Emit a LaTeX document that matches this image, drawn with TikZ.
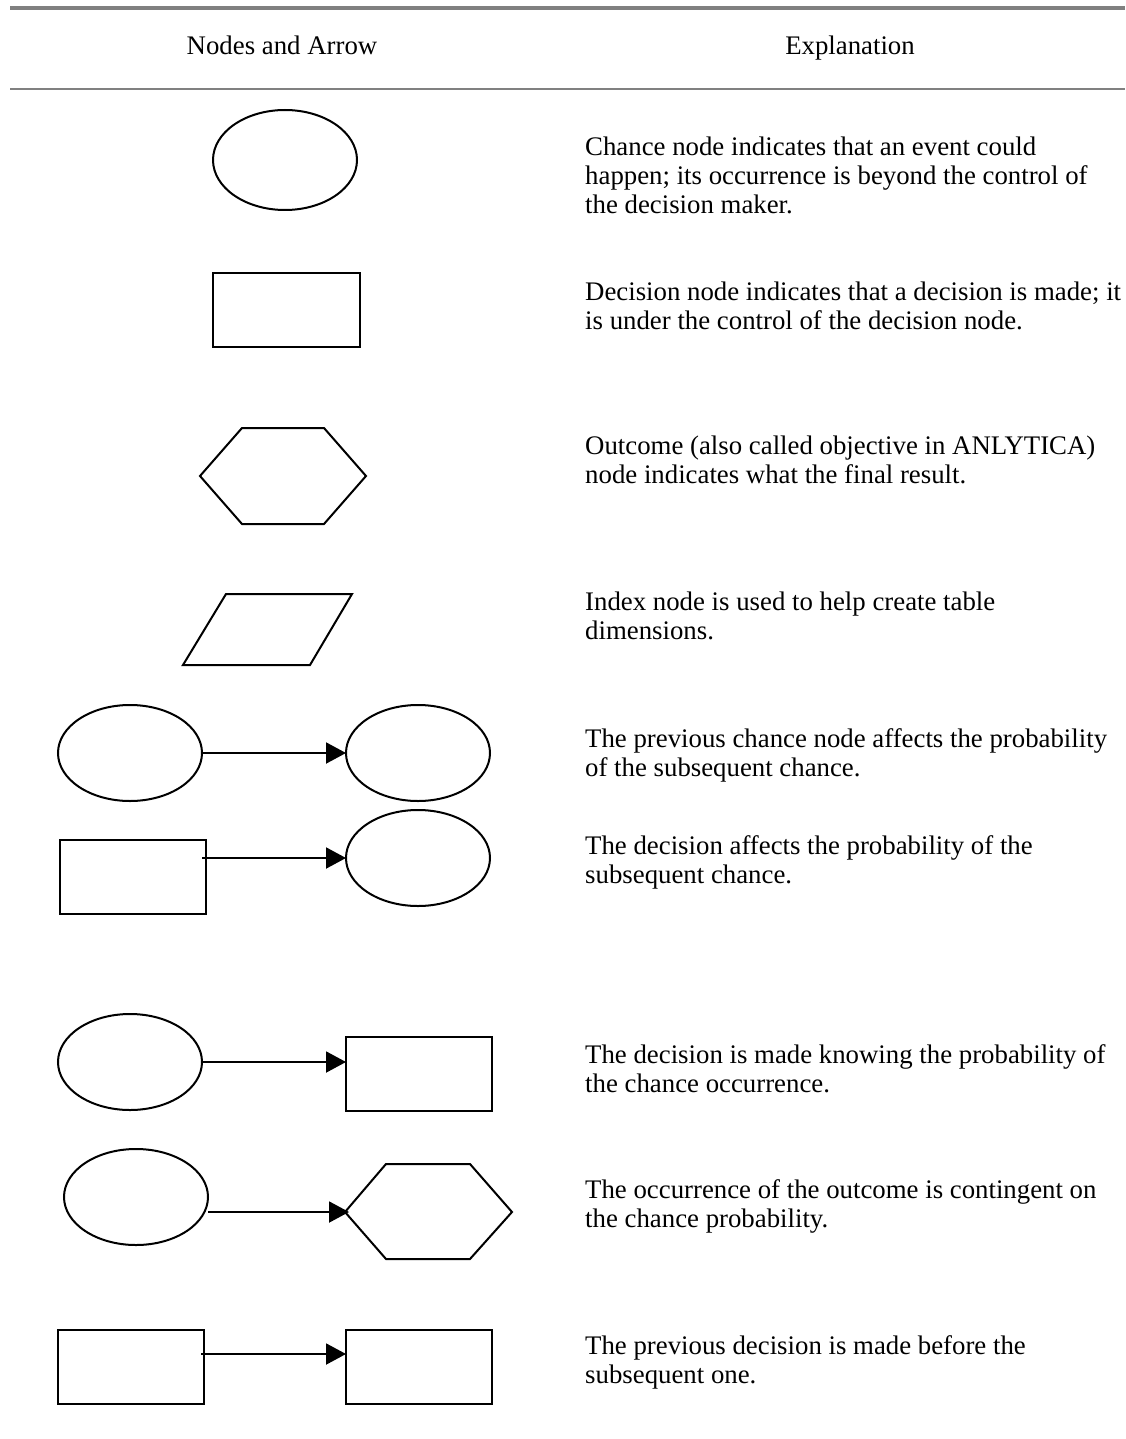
\documentclass[tikz,border=0pt]{standalone}
\usepackage{fontspec}
\setmainfont{Liberation Serif}
\usetikzlibrary{arrows.meta,shapes.geometric,calc}
\newcommand\bodyfont{\fontsize{26.8}{29}\selectfont}
\begin{document}
\begin{tikzpicture}[x=1pt,y=-1pt,
  rulecol/.style={draw={rgb,255:red,128;green,128;blue,128}},
  ell/.style={ellipse,draw,line width=2pt,minimum width=144pt,minimum height=96pt,inner sep=0pt,outer sep=0pt},
  box/.style={rectangle,draw,line width=2pt,minimum width=146pt,minimum height=74pt,inner sep=0pt,outer sep=0pt},
  outline/.style={line width=2pt,line join=miter},
  conn/.style={line width=2pt,-{Triangle[length=20pt,width=21pt]}},
  head/.style={anchor=base,inner sep=0pt,font=\bodyfont},
  expl/.style={anchor=base west,inner sep=0pt,font=\bodyfont}]
\useasboundingbox (0,0) rectangle (1125,1439);

% table rules
\draw[rulecol,line width=4pt] (10,8) -- (1125,8);
\draw[rulecol,line width=2.5pt] (10,89) -- (1125,89);

% column heads
\node[head] (h1) at (282,55) {Nodes and Arrow};
\node[head] (h2) at (850,55) {Explanation};

% chance node
\node[ell,minimum height=100pt] (e1) at (285,160) {};
% decision node
\node[box,minimum width=147pt] (r2) at (286.5,310) {};
% outcome node
\coordinate (h3w) at (200,476);
\draw[outline] (h3w) -- (242,428) -- (324,428) -- (366,476) -- (324,524) -- (242,524) -- cycle;
% index node
\coordinate (p4) at (183,665);
\draw[outline] (p4) -- (310,665) -- (352,594) -- (226,594) -- cycle;

% chance -> chance
\node[ell] (e5a) at (130,753) {};
\node[ell] (e5b) at (418,753) {};
\draw[conn] (e5a.east) -- (e5b.west);

% decision -> chance
\node[box] (r6a) at (133,877) {};
\node[ell] (e6b) at (418,858) {};
\draw[conn,shorten <=-4pt] (r6a.east |- e6b.west) -- (e6b.west);

% chance -> decision
\node[ell] (e7a) at (130,1062) {};
\node[box] (r7b) at (419,1074) {};
\draw[conn] (e7a.east) -- (e7a.east -| r7b.west);

% chance -> outcome
\node[ell] (e8a) at (136,1197) {};
\coordinate (h8w) at (345,1212);
\draw[outline] (h8w) -- (386,1164) -- (470,1164) -- (512,1212) -- (470,1259) -- (386,1259) -- cycle;
\draw[conn,shorten >=-4pt] (e8a.east |- h8w) -- (h8w);

% decision -> decision
\node[box] (r9a) at (131,1367) {};
\node[box] (r9b) at (419,1367) {};
\coordinate (a9) at ([yshift=13pt]r9a.east);
\draw[conn,shorten <=-3pt] (a9) -- (a9 -| r9b.west);

% explanations
\node[expl] (t1) at (585,156) {\parbox[t]{540pt}{\raggedright Chance node indicates that an event could\\happen; its occurrence is beyond the control of\\the decision maker.}};
\node[expl] (t2) at (585,300) {\parbox[t]{540pt}{\raggedright Decision node indicates that a decision is made; it\\is under the control of the decision node.}};
\node[expl] (t3) at (585,454) {\parbox[t]{540pt}{\raggedright Outcome (also called objective in ANLYTICA)\\node indicates what the final result.}};
\node[expl] (t4) at (585,610) {\parbox[t]{540pt}{\raggedright Index node is used to help create table\\dimensions.}};
\node[expl] (t5) at (585,747) {\parbox[t]{540pt}{\raggedright The previous chance node affects the probability\\of the subsequent chance.}};
\node[expl] (t6) at (585,854) {\parbox[t]{540pt}{\raggedright The decision affects the probability of the\\subsequent chance.}};
\node[expl] (t7) at (585,1063) {\parbox[t]{540pt}{\raggedright The decision is made knowing the probability of\\the chance occurrence.}};
\node[expl] (t8) at (585,1198) {\parbox[t]{540pt}{\raggedright The occurrence of the outcome is contingent on\\the chance probability.}};
\node[expl] (t9) at (585,1354) {\parbox[t]{540pt}{\raggedright The previous decision is made before the\\subsequent one.}};
\end{tikzpicture}
\end{document}
